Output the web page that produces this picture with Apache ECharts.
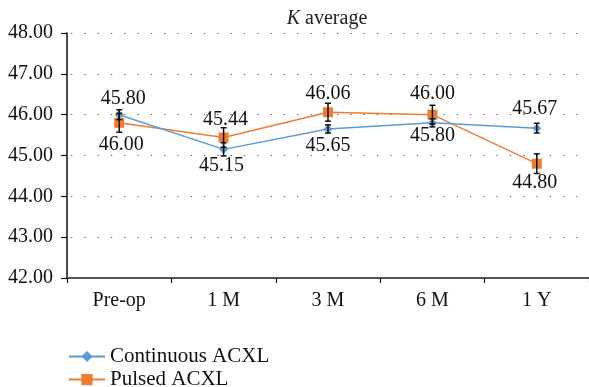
<!DOCTYPE html>
<html><head><meta charset="utf-8">
<script src="https://cdn.jsdelivr.net/npm/echarts@6/dist/echarts.min.js"></script>
<style>html,body{margin:0;padding:0;background:#fff}#c{width:589px;height:387px}</style>
</head><body><div id="c"></div>
<script>
const categories = ['Pre-op', '1 M', '3 M', '6 M', '1 Y'];
const continuous = [46.00, 45.15, 45.65, 45.80, 45.67];
const pulsed = [45.80, 45.44, 46.06, 46.00, 44.80];
const continuousErr = [0.12, 0.16, 0.10, 0.10, 0.12];
const pulsedErr = [0.23, 0.24, 0.22, 0.23, 0.24];
// label text as printed on the reference
const continuousLabels = ['46.00', '45.15', '45.65', '45.80', '45.67'];
const pulsedLabels = ['45.80', '45.44', '46.06', '46.00', '44.80'];
const continuousLabelOffset = [[2, 30], [-2, 16], [0, 17], [0, 13], [-2, -19]];
const pulsedLabelOffset = [[4, -24], [2, -18], [0, -18], [0, -21], [-2, 19]];
const yTicks = [42, 43, 44, 45, 46, 47, 48];

const FONT = '"Liberation Serif", serif';
const chart = echarts.init(document.getElementById('c'));

function errSeries(vals, errs) {
  return {
    type: 'custom',
    z: 5,
    silent: true,
    data: vals.map((v, i) => [i, v - errs[i], v + errs[i]]),
    renderItem: function (params, api) {
      const lo = api.coord([api.value(0), api.value(1)]);
      const hi = api.coord([api.value(0), api.value(2)]);
      const w = 3;
      const st = { stroke: '#111', lineWidth: 1.5 };
      return {
        type: 'group',
        children: [
          { type: 'line', shape: { x1: lo[0], y1: lo[1], x2: hi[0], y2: hi[1] }, style: st },
          { type: 'line', shape: { x1: lo[0] - w, y1: lo[1], x2: lo[0] + w, y2: lo[1] }, style: st },
          { type: 'line', shape: { x1: hi[0] - w, y1: hi[1], x2: hi[0] + w, y2: hi[1] }, style: st }
        ]
      };
    }
  };
}

function lineData(vals, labels, offs) {
  return vals.map((v, i) => ({
    value: v,
    label: { show: true, position: 'inside', offset: offs[i], formatter: labels[i] }
  }));
}

chart.setOption({
  animation: false,
  title: {
    text: '{i|K} average',
    left: 322, top: 4, textAlign: 'center',
    textStyle: {
      fontFamily: FONT, fontSize: 20, fontWeight: 'normal', color: '#222',
      rich: { i: { fontFamily: FONT, fontSize: 20, fontStyle: 'italic', color: '#222' } }
    }
  },
  grid: { left: 67, top: 33, width: 525, height: 245, containLabel: false },
  legend: {
    orient: 'vertical', left: 63, top: 341, itemWidth: 36, itemHeight: 14, itemGap: 2,
    height: 46,
    textStyle: { fontFamily: FONT, fontSize: 21, color: '#111', lineHeight: 21 },
    data: ['Continuous ACXL', 'Pulsed ACXL']
  },
  xAxis: {
    type: 'category', data: categories, boundaryGap: true,
    axisLine: { lineStyle: { color: '#555', width: 2 } },
    axisTick: { show: true, length: 5, lineStyle: { color: '#111', width: 1.2 } },
    axisLabel: { fontFamily: FONT, fontSize: 20, color: '#111', margin: 13 }
  },
  yAxis: {
    type: 'value', min: yTicks[0], max: yTicks[yTicks.length - 1], interval: 1,
    axisLine: { show: true, lineStyle: { color: '#111', width: 1.5 } },
    axisTick: { show: true, length: 6, lineStyle: { color: '#111', width: 1.2 } },
    axisLabel: { fontFamily: FONT, fontSize: 20, color: '#111', margin: 14, formatter: v => v.toFixed(2) },
    splitLine: { show: true, lineStyle: { color: '#555', width: 1.2, type: [1.3, 12], dashOffset: -4 } }
  },
  series: [
    {
      name: 'Continuous ACXL', type: 'line', data: lineData(continuous, continuousLabels, continuousLabelOffset),
      symbol: 'diamond', symbolSize: 9, z: 4,
      lineStyle: { color: '#5B9BD5', width: 1.5 }, itemStyle: { color: '#5B9BD5' },
      label: { fontFamily: FONT, fontSize: 20, color: '#111' }
    },
    {
      name: 'Pulsed ACXL', type: 'line', data: lineData(pulsed, pulsedLabels, pulsedLabelOffset),
      symbol: 'rect', symbolSize: 10, z: 3,
      lineStyle: { color: '#ED7D31', width: 1.5 }, itemStyle: { color: '#ED7D31' },
      label: { fontFamily: FONT, fontSize: 20, color: '#111' }
    },
    errSeries(continuous, continuousErr),
    errSeries(pulsed, pulsedErr)
  ]
});
</script>
</body></html>
